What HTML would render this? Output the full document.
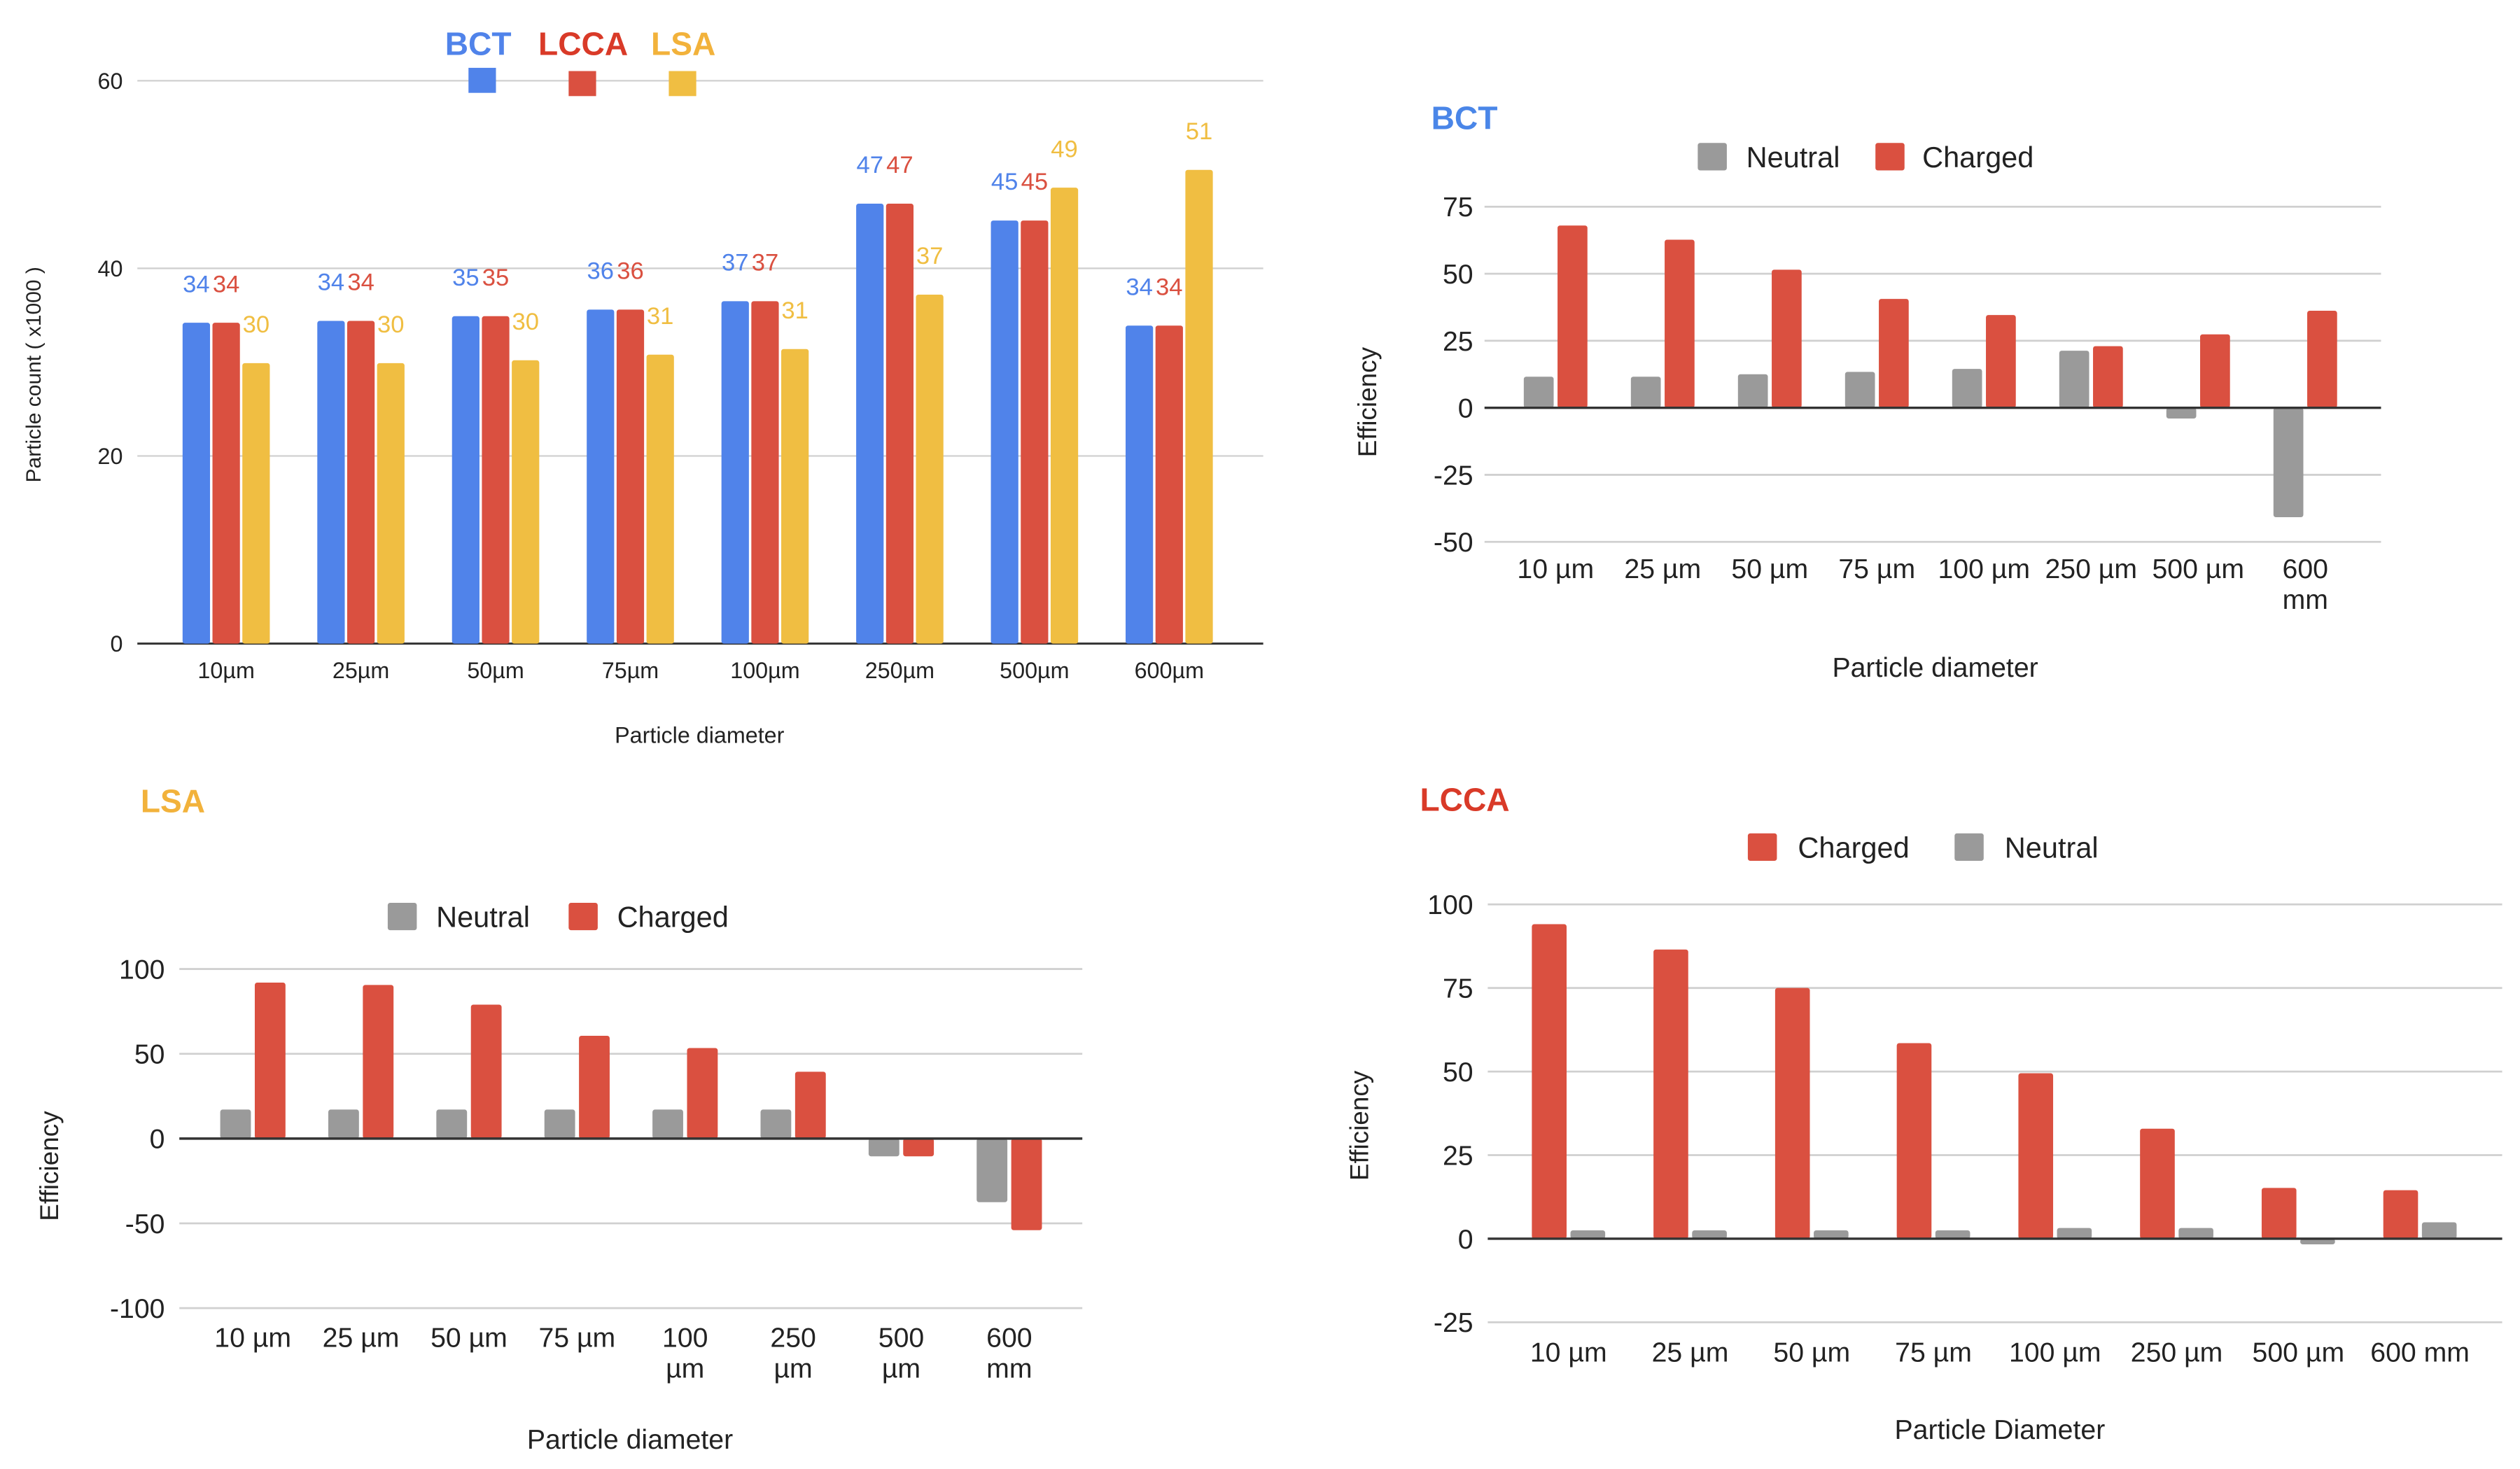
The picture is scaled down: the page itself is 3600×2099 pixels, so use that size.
<!DOCTYPE html>
<html><head><meta charset="utf-8"><style>
html,body{margin:0;padding:0;background:#fff;}
svg{display:block;}
text{font-family:"Liberation Sans Narrow","Liberation Sans",sans-serif;}
.b{font-family:"Liberation Sans",sans-serif;font-weight:bold;}
</style></head><body>
<svg id="root" width="3600" height="2099" viewBox="0 0 1560 909.6" xmlns="http://www.w3.org/2000/svg">
<g id="c1"></g>
<g id="c2"></g>
<g id="c3"></g>
<g id="c4"></g>
</svg>
<script>
const cats1 = ["10µm","25µm","50µm","75µm","100µm","250µm","500µm","600µm"];
const bctCount = [34.2,34.4,34.9,35.6,36.5,46.9,45.1,33.9];
const lccaCount = [34.2,34.4,34.9,35.6,36.5,46.9,45.1,33.9];
const lsaCount = [29.9,29.9,30.2,30.8,31.4,37.2,48.6,50.5];
const ticks1 = [0,20,40,60];

const catsBct = [["10 µm"],["25 µm"],["50 µm"],["75 µm"],["100 µm"],["250 µm"],["500 µm"],["600","mm"]];
const bctNeutral = [11.6,11.6,12.5,13.4,14.5,21.3,-4,-40.8];
const bctCharged = [68,62.7,51.5,40.6,34.6,23,27.4,36.2];
const ticksBct = [-50,-25,0,25,50,75];

const catsLsa = [["10 µm"],["25 µm"],["50 µm"],["75 µm"],["100","µm"],["250","µm"],["500","µm"],["600","mm"]];
const lsaNeutral = [17.1,17.1,17.1,17.1,17.1,17.1,-10.5,-37.5];
const lsaCharged = [92,90.6,79,60.6,53.4,39.4,-10.5,-54];
const ticksLsa = [-100,-50,0,50,100];

const catsLcca = [["10 µm"],["25 µm"],["50 µm"],["75 µm"],["100 µm"],["250 µm"],["500 µm"],["600 mm"]];
const lccaCharged = [94.1,86.5,75,58.5,49.5,32.9,15.2,14.5];
const lccaNeutral = [2.5,2.5,2.5,2.5,3.2,3.2,-1.7,4.9];
const ticksLcca = [-25,0,25,50,75,100];

const NS="http://www.w3.org/2000/svg";
const BLUE="#5083ea", RED="#da5040", YEL="#f0be42", GRAY="#9a9a9a";
function mk(parent,tag,attrs,txt){const e=document.createElementNS(NS,tag);for(const k in attrs)e.setAttribute(k,attrs[k]);if(txt!==undefined)e.textContent=txt;parent.appendChild(e);return e;}

// ---------- Chart 1 ----------
(function(){
  const g=document.getElementById('c1');
  const x0=85,x1=782,yZero=398.5,yTop=50,vMax=60;
  const y=v=>yZero-(v/vMax)*(yZero-yTop);
  const cx=i=>140+i*83.4;
  ticks1.forEach(t=>{
    const l=mk(g,'line',{x1:x0,x2:x1,y1:y(t),y2:y(t),stroke:t===0?'#333':'#d0d0d0','stroke-width':t===0?1.3:1});
    
    
    const tx=mk(g,'text',{x:76,y:y(t)+5,'text-anchor':'end','font-size':14,fill:'#222'},String(t));
    
    
  });
  const series=[[bctCount,BLUE,-18.5],[lccaCount,RED,0],[lsaCount,YEL,18.5]];
  cats1.forEach((c,i)=>{
    series.forEach(([arr,col,off])=>{
      const v=arr[i],bx=cx(i)+off;
      const r=mk(g,'rect',{x:bx-8.5,y:y(v),width:17,height:yZero-y(v),fill:col,rx:1.5});
      
      
      const t=mk(g,'text',{x:bx,y:y(v)-19,'text-anchor':'middle','font-size':15,fill:col},String(Math.round(v)));
      
      
    });
    const xl=mk(g,'text',{x:cx(i),y:420,'text-anchor':'middle','font-size':14,fill:'#222'},c);
    
    
  });
  mk(g,'text',{x:433,y:460,'text-anchor':'middle','font-size':14,fill:'#222',},'Particle diameter');
  mk(g,'text',{x:0,y:0,transform:'translate(25,232) rotate(-90)','text-anchor':'middle','font-size':13,fill:'#222',style:'font-family:"Liberation Sans",sans-serif',},'Particle count ( x1000 )');
  const leg=[['BCT',296,BLUE,290,42],['LCCA',361,'#d93a28',352,44],['LSA',423,'#f2b23b',414,44]];
  leg.forEach(([n,tx,col,sx,sy])=>{
    const t=mk(g,'text',{x:tx,y:34,'text-anchor':'middle','font-size':20,fill:col,class:'b'},n);
    
    
    const s=mk(g,'rect',{x:sx,y:sy,width:17,height:15.5,fill:col===BLUE?BLUE:(n==='LCCA'?RED:YEL)});
    
    
  });
})();

// ---------- Efficiency charts ----------
function effChart(gid,o){
  const g=document.getElementById(gid);
  const y=v=>o.yZero-(v/o.unitSpan)*(o.yZero-o.yUnit);
  o.ticks.forEach(t=>{
    const l=mk(g,'line',{x1:o.x0,x2:o.x1,y1:y(t),y2:y(t),stroke:'#d0d0d0','stroke-width':1.2});
    
    
    const tx=mk(g,'text',{x:o.tickX,y:y(t)+6,'text-anchor':'end','font-size':17,fill:'#222'},String(t));
    
    
  });
  o.cats.forEach((c,i)=>{
    const cx=o.c0+i*o.step;
    o.series.forEach(([arr,col],k)=>{
      const v=arr[i],bx=cx+(k===0?-o.bw-1.2:1.2);
      const top=Math.min(y(v),o.yZero),h=Math.abs(y(v)-o.yZero);
      const r=mk(g,'rect',{x:bx,y:top,width:o.bw,height:h,fill:col,rx:1.5});
      
      
    });
    c.forEach((line,j)=>{
      const t=mk(g,'text',{x:cx,y:o.labY+j*19,'text-anchor':'middle','font-size':17,fill:'#222'},line);
      
      
    });
  });
  const zl=mk(g,'line',{x1:o.x0,x2:o.x1,y1:o.yZero,y2:o.yZero,stroke:'#333','stroke-width':1.5});
  
  
  mk(g,'text',{x:o.title[1],y:o.title[2],'font-size':20,fill:o.title[3],class:'b',},o.title[0]);
  o.legend.forEach(([n,col,sx,tx])=>{
    const s=mk(g,'rect',{x:sx,y:o.legY,width:18,height:17,fill:col,rx:1.5});
    
    
    const t=mk(g,'text',{x:tx,y:o.legY+15,'font-size':18,fill:'#222'},n);
    
    
  });
  mk(g,'text',{x:o.xt[0],y:o.xt[1],'text-anchor':'middle','font-size':17,fill:'#222',},o.xt[2]);
  mk(g,'text',{x:0,y:0,transform:`translate(${o.yt[0]},${o.yt[1]}) rotate(-90)`,'text-anchor':'middle','font-size':16,fill:'#222',style:'font-family:"Liberation Sans",sans-serif',},'Efficiency');
}

effChart('c2',{x0:919,x1:1474,yZero:252.5,yUnit:128,unitSpan:75,ticks:ticksBct,tickX:912,
  cats:catsBct,c0:963,step:66.3,bw:18.5,series:[[bctNeutral,GRAY],[bctCharged,RED]],labY:358,
  title:['BCT',886,80,'#4a86e8'],legY:88.5,legend:[['Neutral',GRAY,1051,1081],['Charged',RED,1161,1190]],
  xt:[1198,419,'Particle diameter'],yt:[852,249]});
effChart('c3',{x0:111,x1:670,yZero:705,yUnit:600,unitSpan:100,ticks:ticksLsa,tickX:102,
  cats:catsLsa,c0:156.5,step:66.9,bw:19,series:[[lsaNeutral,GRAY],[lsaCharged,RED]],labY:834,
  title:['LSA',87,503,'#f2b23b'],legY:559,legend:[['Neutral',GRAY,240,270],['Charged',RED,352,382]],
  xt:[390,897,'Particle diameter'],yt:[36,722]});
effChart('c4',{x0:921,x1:1549,yZero:767,yUnit:560,unitSpan:100,ticks:ticksLcca,tickX:912,
  cats:catsLcca,c0:971,step:75.3,bw:21.5,series:[[lccaCharged,RED],[lccaNeutral,GRAY]],labY:843,
  title:['LCCA',879,502,'#d93a28'],legY:516,legend:[['Charged',RED,1082,1113],['Neutral',GRAY,1210,1241]],
  xt:[1238,891,'Particle Diameter'],yt:[847,697]});
</script>
</body></html>
